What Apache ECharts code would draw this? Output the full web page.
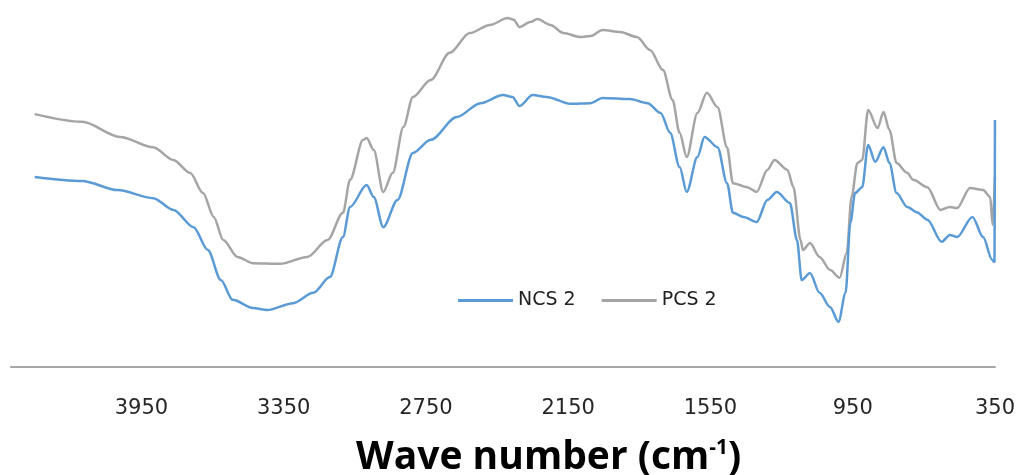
<!DOCTYPE html>
<html>
<head>
<meta charset="utf-8">
<script src="https://cdn.jsdelivr.net/npm/echarts@6.0.0/dist/echarts.min.js"></script>
<style>
  html, body { margin: 0; padding: 0; background: #fff; }
  #main { width: 1018px; height: 475px; }
</style>
</head>
<body>
<div id="main"></div>
<script>
// 刻度标签 (波数)
var tickLabels = [3950, 3350, 2750, 2150, 1550, 950, 350];

// NCS 2 (蓝线) 波数 / 透过率
var ncsWave = [4400, 4200, 4050, 3900, 3815, 3730, 3670, 3615, 3565, 3480, 3420, 3310, 3225, 3155, 3100, 3070, 3000, 2970, 2930, 2870,
  2805, 2730, 2620, 2520, 2425, 2385, 2355, 2300, 2240, 2140, 2055, 2005, 1890, 1815, 1760, 1720, 1680, 1650, 1605, 1575,
  1520, 1480, 1455, 1410, 1355, 1310, 1270, 1215, 1185, 1165, 1130, 1090, 1045, 1010, 980, 960, 940, 910, 885, 855,
  820, 795, 765, 720, 680, 635, 575, 540, 510, 445, 400, 362, 352, 350];
var ncsT = [51.8, 50.7, 48.2, 46.0, 42.8, 38.1, 31.9, 23.7, 18.3, 16.1, 15.5, 17.4, 20.2, 24.5, 35.4, 43.6, 49.6, 46.3, 38.1, 45.5,
  58.3, 61.9, 68.1, 71.9, 74.1, 73.6, 71.1, 74.1, 73.6, 71.7, 71.9, 73.3, 73.0, 71.9, 69.2, 63.8, 54.5, 47.7, 57.2, 62.7,
  59.9, 50.1, 42.0, 40.9, 39.5, 45.5, 47.7, 44.7, 34.6, 23.7, 25.6, 20.2, 16.3, 12.3, 20.2, 39.2, 47.4, 49.0, 60.5, 55.9,
  59.9, 55.6, 47.4, 43.6, 42.2, 40.1, 34.1, 36.0, 35.4, 40.9, 35.4, 29.2, 28.6, 67.3];

// PCS 2 (灰线)
var pcsWave = [4400, 4200, 4040, 3900, 3815, 3745, 3690, 3645, 3605, 3545, 3480, 3365, 3250, 3165, 3100, 3070, 3015, 3000, 2970, 2930,
  2890, 2845, 2805, 2730, 2650, 2565, 2480, 2405, 2380, 2355, 2310, 2280, 2225, 2170, 2100, 2055, 2005, 1930, 1860, 1805,
  1750, 1710, 1680, 1650, 1605, 1565, 1520, 1480, 1455, 1395, 1355, 1310, 1280, 1225, 1200, 1170, 1160, 1130, 1090, 1045,
  1005, 975, 955, 930, 910, 885, 845, 820, 795, 765, 720, 695, 635, 580, 540, 510, 455, 400, 370, 360, 350];
var pcsT = [68.9, 66.8, 62.7, 59.9, 56.4, 52.9, 47.4, 40.9, 34.6, 30.0, 28.3, 28.1, 30.0, 34.6, 42.0, 51.0, 61.9, 62.4, 59.1, 47.7,
  52.9, 65.4, 73.6, 78.2, 85.6, 91.0, 93.2, 95.1, 94.6, 92.6, 94.0, 94.8, 93.2, 91.0, 89.9, 90.2, 91.8, 91.3, 89.9, 86.4,
  80.9, 72.8, 63.8, 57.2, 69.2, 74.7, 70.8, 59.9, 50.1, 49.0, 47.7, 53.7, 56.4, 53.7, 49.0, 34.6, 31.9, 33.8, 30.0, 26.4,
  24.3, 31.1, 46.3, 55.6, 56.4, 70.0, 65.1, 69.5, 64.6, 55.6, 52.9, 51.0, 49.0, 42.8, 43.6, 43.3, 48.8, 48.2, 46.3, 38.7, 51.8];

function pairs(xs, ys) {
  var out = [];
  for (var i = 0; i < xs.length; i++) {
    out.push([xs[i], ys[i]]);
  }
  return out;
}

var myChart = echarts.init(document.getElementById('main'));
myChart.setOption({
  backgroundColor: '#fff',
  animation: false,
  title: {
    text: '{a|Wave number (cm}{s|-1}{a|)}',
    left: 351,
    top: 433,
    textStyle: {
      rich: {
        a: { fontFamily: 'Open Sans', fontWeight: 'bold', fontSize: 39, color: '#000' },
        s: { fontFamily: 'Open Sans', fontWeight: 'bold', fontSize: 21, color: '#000', verticalAlign: 'top' }
      }
    }
  },
  legend: {
    data: ['NCS 2', 'PCS 2'],
    left: 453,
    top: 286,
    icon: 'rect',
    itemWidth: 55,
    itemHeight: 3,
    itemGap: 26,
    textStyle: { fontFamily: 'DejaVu Sans', fontSize: 19, color: '#222' }
  },
  grid: {
    left: 11,
    right: 23,
    top: 0,
    bottom: 108
  },
  xAxis: {
    type: 'value',
    inverse: true,
    min: 350,
    max: 4500,
    axisLine: { show: true, lineStyle: { color: '#a6a6a6', width: 2 } },
    axisTick: { show: false },
    splitLine: { show: false },
    axisLabel: {
      customValues: tickLabels,
      showMinLabel: true,
      showMaxLabel: true,
      margin: 31,
      formatter: function (value) {
        return String(value);
      },
      fontFamily: 'DejaVu Sans',
      fontSize: 21,
      color: '#262626'
    }
  },
  yAxis: {
    type: 'value',
    min: 0,
    max: 100,
    show: false
  },
  series: [
    {
      name: 'NCS 2',
      type: 'line',
      data: pairs(ncsWave, ncsT),
      symbol: 'none',
      smooth: 0.3,
      smoothMonotone: 'x',
      z: 3,
      lineStyle: { color: '#5b9bd5', width: 2.5 },
      itemStyle: { color: '#5b9bd5' }
    },
    {
      name: 'PCS 2',
      type: 'line',
      data: pairs(pcsWave, pcsT),
      symbol: 'none',
      smooth: 0.3,
      smoothMonotone: 'x',
      z: 2,
      lineStyle: { color: '#a5a5a5', width: 2.5 },
      itemStyle: { color: '#a5a5a5' }
    }
  ]
});
</script>
</body>
</html>
